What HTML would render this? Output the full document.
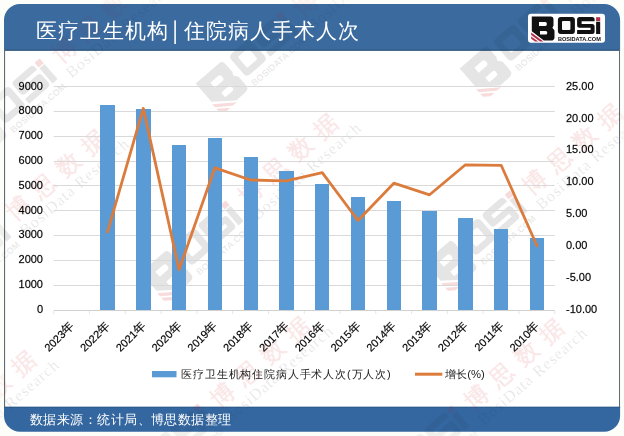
<!DOCTYPE html>
<html><head><meta charset="utf-8">
<style>
html,body{margin:0;padding:0;}
body{width:624px;height:436px;overflow:hidden;background:#fdfefa;font-family:"Liberation Sans", sans-serif;position:relative;}
svg{position:absolute;left:0;top:0;}
svg text{font-family:"Liberation Sans", sans-serif;}
.ax{stroke:#000;stroke-width:0.3px;stroke-opacity:0.6;}
</style></head><body>
<svg width="624" height="436" viewBox="0 0 624 436">
<defs>
<clipPath id="card"><rect x="4" y="4.1" width="616.1" height="427.7" rx="16" ry="16"/></clipPath>

<g id="lk">
<path fill-rule="evenodd" d="M0,0 H18.9 Q21.7,0 21.7,3.1 V9.3 L20.6,11.4 L22.7,14.1 V21 Q22.7,24.1 18.9,24.1 H12 L0,14.8 Z M7.2,5.5 H13.5 Q15.1,5.5 15.1,7.55 Q15.1,9.6 13.5,9.6 H7.2 Z M8.2,14.5 H13.9 Q15.5,14.5 15.5,16.35 Q15.5,18.2 13.9,18.2 H8.2 Z"/>
<path fill-rule="evenodd" d="M29,0.6 H40.2 Q43.1,0.6 43.1,3.5 V14.7 Q43.1,17.6 40.2,17.6 H29 Q26.1,17.6 26.1,14.7 V3.5 Q26.1,0.6 29,0.6 Z M31.2,4.7 H37.6 Q38.6,4.7 38.6,5.7 V12.5 Q38.6,13.5 37.6,13.5 H31.2 Q30.2,13.5 30.2,12.5 V5.7 Q30.2,4.7 31.2,4.7 Z"/>
<path fill-rule="evenodd" d="M47.8,0.7 H60.3 Q62.8,0.7 62.8,3.2 V4.9 H49.8 V7.5 H60.3 Q62.8,7.5 62.8,10 V15.1 Q62.8,17.6 60.3,17.6 H45.3 V13.7 H58.8 V11.3 H47.8 Q45.3,11.3 45.3,8.8 V3.2 Q45.3,0.7 47.8,0.7 Z"/>
<rect x="64.3" y="5.3" width="4.1" height="12.3"/>
<text x="26.1" y="25.1" font-size="5.6" font-weight="bold" textLength="43" lengthAdjust="spacingAndGlyphs" style="font-family:'Liberation Sans',sans-serif">BOSIDATA.COM</text>
</g>
<g id="lr">
<path d="M-0.6,16.2 L11.6,25.2 H8.2 L-0.6,18.7 Z"/>
<path d="M-0.6,20.0 L6.4,25.2 H3.2 L-0.6,22.4 Z"/>
<rect x="64.3" y="0.8" width="4.1" height="3.8"/>
</g>

<mask id="mout"><rect x="0" y="0" width="624" height="436" fill="#fff"/><rect x="5" y="50.8" width="614" height="356" fill="#000"/></mask>
</defs>
<g clip-path="url(#card)">
<rect x="0" y="0" width="624" height="436" fill="#ffffff"/>
<rect x="0" y="0" width="624" height="50.3" fill="#3a6a9e"/>
<rect x="0" y="49.6" width="624" height="1.2" fill="#2b5379"/>
<rect x="4" y="49" width="1.1" height="360" fill="#5f6d73"/>
<rect x="619" y="49" width="1.1" height="360" fill="#5f6d73"/>
<rect x="0" y="406.8" width="624" height="30" fill="#3467a0"/>
<rect x="0" y="406.8" width="624" height="1" fill="#2d5a88"/>
</g>
<clipPath id="cin"><rect x="5" y="50.8" width="614" height="356"/></clipPath>
<g clip-path="url(#cin)"><g transform="translate(64,50) rotate(-41)"><use href="#lk" transform="translate(-135.4,-10.9) scale(1.63)" fill="#000" fill-opacity="0.1"/><use href="#lr" transform="translate(-135.4,-10.9) scale(1.63)" fill="#d00000" fill-opacity="0.14"/><text x="-12" y="8.5" font-size="23.5" font-weight="bold" fill="#d00000" fill-opacity="0.09" letter-spacing="9.5">博思数据</text><text x="-13" y="26.5" font-size="16" fill="#000" fill-opacity="0.1" textLength="138" style="font-family:'Liberation Serif', serif">BosiData Research</text></g>
<g transform="translate(305,3) rotate(-41)"><use href="#lk" transform="translate(-135.4,-10.9) scale(1.63)" fill="#000" fill-opacity="0.1"/><use href="#lr" transform="translate(-135.4,-10.9) scale(1.63)" fill="#d00000" fill-opacity="0.14"/><text x="-12" y="8.5" font-size="23.5" font-weight="bold" fill="#d00000" fill-opacity="0.09" letter-spacing="9.5">博思数据</text><text x="-13" y="26.5" font-size="16" fill="#000" fill-opacity="0.1" textLength="138" style="font-family:'Liberation Serif', serif">BosiData Research</text></g>
<g transform="translate(569,-12) rotate(-41)"><use href="#lk" transform="translate(-135.4,-10.9) scale(1.63)" fill="#000" fill-opacity="0.1"/><use href="#lr" transform="translate(-135.4,-10.9) scale(1.63)" fill="#d00000" fill-opacity="0.14"/><text x="-12" y="8.5" font-size="23.5" font-weight="bold" fill="#d00000" fill-opacity="0.09" letter-spacing="9.5">博思数据</text><text x="-13" y="26.5" font-size="16" fill="#000" fill-opacity="0.1" textLength="138" style="font-family:'Liberation Serif', serif">BosiData Research</text></g>
<g transform="translate(18,208) rotate(-41)"><use href="#lk" transform="translate(-135.4,-10.9) scale(1.63)" fill="#000" fill-opacity="0.1"/><use href="#lr" transform="translate(-135.4,-10.9) scale(1.63)" fill="#d00000" fill-opacity="0.14"/><text x="-12" y="8.5" font-size="23.5" font-weight="bold" fill="#d00000" fill-opacity="0.09" letter-spacing="9.5">博思数据</text><text x="-13" y="26.5" font-size="16" fill="#000" fill-opacity="0.1" textLength="138" style="font-family:'Liberation Serif', serif">BosiData Research</text></g>
<g transform="translate(250,192) rotate(-41)"><use href="#lk" transform="translate(-135.4,-10.9) scale(1.63)" fill="#000" fill-opacity="0.1"/><use href="#lr" transform="translate(-135.4,-10.9) scale(1.63)" fill="#d00000" fill-opacity="0.14"/><text x="-12" y="8.5" font-size="23.5" font-weight="bold" fill="#d00000" fill-opacity="0.09" letter-spacing="9.5">博思数据</text><text x="-13" y="26.5" font-size="16" fill="#000" fill-opacity="0.1" textLength="138" style="font-family:'Liberation Serif', serif">BosiData Research</text></g>
<g transform="translate(534,182) rotate(-41)"><use href="#lk" transform="translate(-135.4,-10.9) scale(1.63)" fill="#000" fill-opacity="0.1"/><use href="#lr" transform="translate(-135.4,-10.9) scale(1.63)" fill="#d00000" fill-opacity="0.14"/><text x="-12" y="8.5" font-size="23.5" font-weight="bold" fill="#d00000" fill-opacity="0.09" letter-spacing="9.5">博思数据</text><text x="-13" y="26.5" font-size="16" fill="#000" fill-opacity="0.1" textLength="138" style="font-family:'Liberation Serif', serif">BosiData Research</text></g>
<g transform="translate(-52,429) rotate(-41)"><use href="#lk" transform="translate(-135.4,-10.9) scale(1.63)" fill="#000" fill-opacity="0.1"/><use href="#lr" transform="translate(-135.4,-10.9) scale(1.63)" fill="#d00000" fill-opacity="0.14"/><text x="-12" y="8.5" font-size="23.5" font-weight="bold" fill="#d00000" fill-opacity="0.09" letter-spacing="9.5">博思数据</text><text x="-13" y="26.5" font-size="16" fill="#000" fill-opacity="0.1" textLength="138" style="font-family:'Liberation Serif', serif">BosiData Research</text></g>
<g transform="translate(222,395) rotate(-41)"><use href="#lk" transform="translate(-135.4,-10.9) scale(1.63)" fill="#000" fill-opacity="0.1"/><use href="#lr" transform="translate(-135.4,-10.9) scale(1.63)" fill="#d00000" fill-opacity="0.14"/><text x="-12" y="8.5" font-size="23.5" font-weight="bold" fill="#d00000" fill-opacity="0.09" letter-spacing="9.5">博思数据</text><text x="-13" y="26.5" font-size="16" fill="#000" fill-opacity="0.1" textLength="138" style="font-family:'Liberation Serif', serif">BosiData Research</text></g>
<g transform="translate(476,397) rotate(-41)"><use href="#lk" transform="translate(-135.4,-10.9) scale(1.63)" fill="#000" fill-opacity="0.1"/><use href="#lr" transform="translate(-135.4,-10.9) scale(1.63)" fill="#d00000" fill-opacity="0.14"/><text x="-12" y="8.5" font-size="23.5" font-weight="bold" fill="#d00000" fill-opacity="0.09" letter-spacing="9.5">博思数据</text><text x="-13" y="26.5" font-size="16" fill="#000" fill-opacity="0.1" textLength="138" style="font-family:'Liberation Serif', serif">BosiData Research</text></g></g>
<g mask="url(#mout)" opacity="0.55"><g transform="translate(64,50) rotate(-41)"><use href="#lk" transform="translate(-135.4,-10.9) scale(1.63)" fill="#000" fill-opacity="0.1"/><use href="#lr" transform="translate(-135.4,-10.9) scale(1.63)" fill="#d00000" fill-opacity="0.14"/><text x="-12" y="8.5" font-size="23.5" font-weight="bold" fill="#d00000" fill-opacity="0.09" letter-spacing="9.5">博思数据</text><text x="-13" y="26.5" font-size="16" fill="#000" fill-opacity="0.1" textLength="138" style="font-family:'Liberation Serif', serif">BosiData Research</text></g>
<g transform="translate(305,3) rotate(-41)"><use href="#lk" transform="translate(-135.4,-10.9) scale(1.63)" fill="#000" fill-opacity="0.1"/><use href="#lr" transform="translate(-135.4,-10.9) scale(1.63)" fill="#d00000" fill-opacity="0.14"/><text x="-12" y="8.5" font-size="23.5" font-weight="bold" fill="#d00000" fill-opacity="0.09" letter-spacing="9.5">博思数据</text><text x="-13" y="26.5" font-size="16" fill="#000" fill-opacity="0.1" textLength="138" style="font-family:'Liberation Serif', serif">BosiData Research</text></g>
<g transform="translate(569,-12) rotate(-41)"><use href="#lk" transform="translate(-135.4,-10.9) scale(1.63)" fill="#000" fill-opacity="0.1"/><use href="#lr" transform="translate(-135.4,-10.9) scale(1.63)" fill="#d00000" fill-opacity="0.14"/><text x="-12" y="8.5" font-size="23.5" font-weight="bold" fill="#d00000" fill-opacity="0.09" letter-spacing="9.5">博思数据</text><text x="-13" y="26.5" font-size="16" fill="#000" fill-opacity="0.1" textLength="138" style="font-family:'Liberation Serif', serif">BosiData Research</text></g>
<g transform="translate(18,208) rotate(-41)"><use href="#lk" transform="translate(-135.4,-10.9) scale(1.63)" fill="#000" fill-opacity="0.1"/><use href="#lr" transform="translate(-135.4,-10.9) scale(1.63)" fill="#d00000" fill-opacity="0.14"/><text x="-12" y="8.5" font-size="23.5" font-weight="bold" fill="#d00000" fill-opacity="0.09" letter-spacing="9.5">博思数据</text><text x="-13" y="26.5" font-size="16" fill="#000" fill-opacity="0.1" textLength="138" style="font-family:'Liberation Serif', serif">BosiData Research</text></g>
<g transform="translate(250,192) rotate(-41)"><use href="#lk" transform="translate(-135.4,-10.9) scale(1.63)" fill="#000" fill-opacity="0.1"/><use href="#lr" transform="translate(-135.4,-10.9) scale(1.63)" fill="#d00000" fill-opacity="0.14"/><text x="-12" y="8.5" font-size="23.5" font-weight="bold" fill="#d00000" fill-opacity="0.09" letter-spacing="9.5">博思数据</text><text x="-13" y="26.5" font-size="16" fill="#000" fill-opacity="0.1" textLength="138" style="font-family:'Liberation Serif', serif">BosiData Research</text></g>
<g transform="translate(534,182) rotate(-41)"><use href="#lk" transform="translate(-135.4,-10.9) scale(1.63)" fill="#000" fill-opacity="0.1"/><use href="#lr" transform="translate(-135.4,-10.9) scale(1.63)" fill="#d00000" fill-opacity="0.14"/><text x="-12" y="8.5" font-size="23.5" font-weight="bold" fill="#d00000" fill-opacity="0.09" letter-spacing="9.5">博思数据</text><text x="-13" y="26.5" font-size="16" fill="#000" fill-opacity="0.1" textLength="138" style="font-family:'Liberation Serif', serif">BosiData Research</text></g>
<g transform="translate(-52,429) rotate(-41)"><use href="#lk" transform="translate(-135.4,-10.9) scale(1.63)" fill="#000" fill-opacity="0.1"/><use href="#lr" transform="translate(-135.4,-10.9) scale(1.63)" fill="#d00000" fill-opacity="0.14"/><text x="-12" y="8.5" font-size="23.5" font-weight="bold" fill="#d00000" fill-opacity="0.09" letter-spacing="9.5">博思数据</text><text x="-13" y="26.5" font-size="16" fill="#000" fill-opacity="0.1" textLength="138" style="font-family:'Liberation Serif', serif">BosiData Research</text></g>
<g transform="translate(222,395) rotate(-41)"><use href="#lk" transform="translate(-135.4,-10.9) scale(1.63)" fill="#000" fill-opacity="0.1"/><use href="#lr" transform="translate(-135.4,-10.9) scale(1.63)" fill="#d00000" fill-opacity="0.14"/><text x="-12" y="8.5" font-size="23.5" font-weight="bold" fill="#d00000" fill-opacity="0.09" letter-spacing="9.5">博思数据</text><text x="-13" y="26.5" font-size="16" fill="#000" fill-opacity="0.1" textLength="138" style="font-family:'Liberation Serif', serif">BosiData Research</text></g>
<g transform="translate(476,397) rotate(-41)"><use href="#lk" transform="translate(-135.4,-10.9) scale(1.63)" fill="#000" fill-opacity="0.1"/><use href="#lr" transform="translate(-135.4,-10.9) scale(1.63)" fill="#d00000" fill-opacity="0.14"/><text x="-12" y="8.5" font-size="23.5" font-weight="bold" fill="#d00000" fill-opacity="0.09" letter-spacing="9.5">博思数据</text><text x="-13" y="26.5" font-size="16" fill="#000" fill-opacity="0.1" textLength="138" style="font-family:'Liberation Serif', serif">BosiData Research</text></g></g>
<text x="36.4" y="38" font-size="20.6" font-weight="500" fill="#ffffff" textLength="131.2" lengthAdjust="spacing">医疗卫生机构</text>
<rect x="174.3" y="20.4" width="1.6" height="23.6" fill="#ffffff"/>
<text x="184" y="38" font-size="20.6" font-weight="500" fill="#ffffff" textLength="174.6" lengthAdjust="spacing">住院病人手术人次</text>
<text x="29.8" y="424.4" font-size="13.3" font-weight="500" fill="#ffffff" textLength="201.5" lengthAdjust="spacing">数据来源：统计局、博思数据整理</text>
<rect x="528" y="13.8" width="77" height="29" rx="3" fill="#ffffff"/>
<use href="#lk" x="531.8" y="16.4" fill="#111"/>
<use href="#lr" x="531.8" y="16.4" fill="#b52f4b"/>
<line x1="53.7" y1="285.50" x2="554.76" y2="285.50" stroke="#d9d9d9" stroke-width="1"/>
<line x1="53.7" y1="260.50" x2="554.76" y2="260.50" stroke="#d9d9d9" stroke-width="1"/>
<line x1="53.7" y1="235.50" x2="554.76" y2="235.50" stroke="#d9d9d9" stroke-width="1"/>
<line x1="53.7" y1="210.50" x2="554.76" y2="210.50" stroke="#d9d9d9" stroke-width="1"/>
<line x1="53.7" y1="185.50" x2="554.76" y2="185.50" stroke="#d9d9d9" stroke-width="1"/>
<line x1="53.7" y1="161.50" x2="554.76" y2="161.50" stroke="#d9d9d9" stroke-width="1"/>
<line x1="53.7" y1="136.50" x2="554.76" y2="136.50" stroke="#d9d9d9" stroke-width="1"/>
<line x1="53.7" y1="111.50" x2="554.76" y2="111.50" stroke="#d9d9d9" stroke-width="1"/>
<line x1="53.7" y1="86.50" x2="554.76" y2="86.50" stroke="#d9d9d9" stroke-width="1"/>
<line x1="53.7" y1="310.5" x2="554.76" y2="310.5" stroke="#d0d0d0" stroke-width="1"/>
<line x1="53.70" y1="311.0" x2="53.70" y2="314.0" stroke="#e6e6e6" stroke-width="1"/>
<line x1="89.49" y1="311.0" x2="89.49" y2="314.0" stroke="#e6e6e6" stroke-width="1"/>
<line x1="125.28" y1="311.0" x2="125.28" y2="314.0" stroke="#e6e6e6" stroke-width="1"/>
<line x1="161.07" y1="311.0" x2="161.07" y2="314.0" stroke="#e6e6e6" stroke-width="1"/>
<line x1="196.86" y1="311.0" x2="196.86" y2="314.0" stroke="#e6e6e6" stroke-width="1"/>
<line x1="232.65" y1="311.0" x2="232.65" y2="314.0" stroke="#e6e6e6" stroke-width="1"/>
<line x1="268.44" y1="311.0" x2="268.44" y2="314.0" stroke="#e6e6e6" stroke-width="1"/>
<line x1="304.23" y1="311.0" x2="304.23" y2="314.0" stroke="#e6e6e6" stroke-width="1"/>
<line x1="340.02" y1="311.0" x2="340.02" y2="314.0" stroke="#e6e6e6" stroke-width="1"/>
<line x1="375.81" y1="311.0" x2="375.81" y2="314.0" stroke="#e6e6e6" stroke-width="1"/>
<line x1="411.60" y1="311.0" x2="411.60" y2="314.0" stroke="#e6e6e6" stroke-width="1"/>
<line x1="447.39" y1="311.0" x2="447.39" y2="314.0" stroke="#e6e6e6" stroke-width="1"/>
<line x1="483.18" y1="311.0" x2="483.18" y2="314.0" stroke="#e6e6e6" stroke-width="1"/>
<line x1="518.97" y1="311.0" x2="518.97" y2="314.0" stroke="#e6e6e6" stroke-width="1"/>
<line x1="554.76" y1="311.0" x2="554.76" y2="314.0" stroke="#e6e6e6" stroke-width="1"/>
<rect x="100" y="105" width="15" height="205" fill="#5b9bd5"/>
<rect x="136" y="109" width="15" height="201" fill="#5b9bd5"/>
<rect x="172" y="145" width="14" height="165" fill="#5b9bd5"/>
<rect x="208" y="138" width="14" height="172" fill="#5b9bd5"/>
<rect x="244" y="157" width="14" height="153" fill="#5b9bd5"/>
<rect x="279" y="171" width="15" height="139" fill="#5b9bd5"/>
<rect x="315" y="184" width="14" height="126" fill="#5b9bd5"/>
<rect x="351" y="197" width="14" height="113" fill="#5b9bd5"/>
<rect x="387" y="201" width="14" height="109" fill="#5b9bd5"/>
<rect x="422" y="211" width="15" height="99" fill="#5b9bd5"/>
<rect x="458" y="218" width="15" height="92" fill="#5b9bd5"/>
<rect x="494" y="229" width="14" height="81" fill="#5b9bd5"/>
<rect x="530" y="238" width="14" height="72" fill="#5b9bd5"/>
<polyline points="107.50,231.8 143.29,108.4 179.08,269.8 214.87,167.8 250.66,180.0 286.45,180.9 322.24,172.7 358.03,220.5 393.82,183.2 429.61,194.8 465.40,164.8 501.19,165.3 536.98,245.8" fill="none" stroke="#db7b3c" stroke-width="2.8" stroke-linejoin="round" stroke-linecap="round"/>
<text x="43.0" y="312.80" text-anchor="end" font-size="11" fill="#000" class="ax">0</text>
<text x="43.0" y="288.00" text-anchor="end" font-size="11" fill="#000" class="ax">1000</text>
<text x="43.0" y="263.20" text-anchor="end" font-size="11" fill="#000" class="ax">2000</text>
<text x="43.0" y="238.40" text-anchor="end" font-size="11" fill="#000" class="ax">3000</text>
<text x="43.0" y="213.60" text-anchor="end" font-size="11" fill="#000" class="ax">4000</text>
<text x="43.0" y="188.80" text-anchor="end" font-size="11" fill="#000" class="ax">5000</text>
<text x="43.0" y="164.00" text-anchor="end" font-size="11" fill="#000" class="ax">6000</text>
<text x="43.0" y="139.20" text-anchor="end" font-size="11" fill="#000" class="ax">7000</text>
<text x="43.0" y="114.40" text-anchor="end" font-size="11" fill="#000" class="ax">8000</text>
<text x="43.0" y="89.60" text-anchor="end" font-size="11" fill="#000" class="ax">9000</text>
<text x="566" y="89.70" font-size="11" fill="#000" class="ax">25.00</text>
<text x="566" y="121.57" font-size="11" fill="#000" class="ax">20.00</text>
<text x="566" y="153.44" font-size="11" fill="#000" class="ax">15.00</text>
<text x="566" y="185.31" font-size="11" fill="#000" class="ax">10.00</text>
<text x="566" y="217.18" font-size="11" fill="#000" class="ax">5.00</text>
<text x="566" y="249.05" font-size="11" fill="#000" class="ax">0.00</text>
<text x="566" y="280.92" font-size="11" fill="#000" class="ax">-5.00</text>
<text x="566" y="312.79" font-size="11" fill="#000" class="ax">-10.00</text>
<text transform="translate(74.71,326.50) rotate(-45)" text-anchor="end" font-size="11" fill="#000" class="ax">2023<tspan font-size="12">年</tspan></text>
<text transform="translate(110.50,326.50) rotate(-45)" text-anchor="end" font-size="11" fill="#000" class="ax">2022<tspan font-size="12">年</tspan></text>
<text transform="translate(146.29,326.50) rotate(-45)" text-anchor="end" font-size="11" fill="#000" class="ax">2021<tspan font-size="12">年</tspan></text>
<text transform="translate(182.08,326.50) rotate(-45)" text-anchor="end" font-size="11" fill="#000" class="ax">2020<tspan font-size="12">年</tspan></text>
<text transform="translate(217.87,326.50) rotate(-45)" text-anchor="end" font-size="11" fill="#000" class="ax">2019<tspan font-size="12">年</tspan></text>
<text transform="translate(253.66,326.50) rotate(-45)" text-anchor="end" font-size="11" fill="#000" class="ax">2018<tspan font-size="12">年</tspan></text>
<text transform="translate(289.45,326.50) rotate(-45)" text-anchor="end" font-size="11" fill="#000" class="ax">2017<tspan font-size="12">年</tspan></text>
<text transform="translate(325.24,326.50) rotate(-45)" text-anchor="end" font-size="11" fill="#000" class="ax">2016<tspan font-size="12">年</tspan></text>
<text transform="translate(361.03,326.50) rotate(-45)" text-anchor="end" font-size="11" fill="#000" class="ax">2015<tspan font-size="12">年</tspan></text>
<text transform="translate(396.82,326.50) rotate(-45)" text-anchor="end" font-size="11" fill="#000" class="ax">2014<tspan font-size="12">年</tspan></text>
<text transform="translate(432.61,326.50) rotate(-45)" text-anchor="end" font-size="11" fill="#000" class="ax">2013<tspan font-size="12">年</tspan></text>
<text transform="translate(468.40,326.50) rotate(-45)" text-anchor="end" font-size="11" fill="#000" class="ax">2012<tspan font-size="12">年</tspan></text>
<text transform="translate(504.19,326.50) rotate(-45)" text-anchor="end" font-size="11" fill="#000" class="ax">2011<tspan font-size="12">年</tspan></text>
<text transform="translate(539.98,326.50) rotate(-45)" text-anchor="end" font-size="11" fill="#000" class="ax">2010<tspan font-size="12">年</tspan></text>
<rect x="152" y="371" width="24.5" height="6.3" fill="#5b9bd5"/>
<text x="181.2" y="378" font-size="11" fill="#222" textLength="209.5" lengthAdjust="spacing">医疗卫生机构住院病人手术人次(万人次)</text>
<line x1="415" y1="374.2" x2="442.3" y2="374.2" stroke="#db7b3c" stroke-width="3"/>
<text x="445.2" y="378.1" font-size="11.3" fill="#222">增长(%)</text>
</svg>
</body></html>
